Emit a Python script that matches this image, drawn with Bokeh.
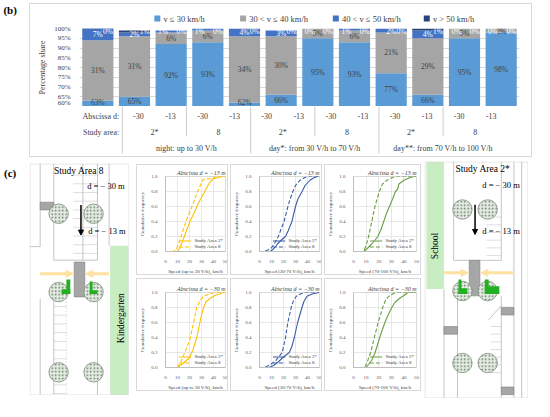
from bokeh.plotting import figure
from bokeh.layouts import row, column, Spacer
from bokeh.models import (Range1d, FixedTicker, Legend, LegendItem, ColumnDataSource,
                          Arrow, NormalHead, PrintfTickFormatter)
from bokeh.core.properties import value
from bokeh.embed import file_html
from bokeh.resources import INLINE
import math

SERIF = "Liberation Serif"
TXT = "#404040"

# ---------------- (b) data ----------------
traffic_groups = ["night: up to 30 V/h", "day*: from 30 V/h to 70 V/h", "day**: from 70 V/h to 100 V/h"]
study_areas = ["2*", "8"]
abscissas = ["-30", "-13"]
speed_classes = ["v \u2264 30 km/h", "30 < v \u2264 40 km/h", "40 < v \u2264 50 km/h", "v > 50 km/h"]
share_le30 = [63, 65, 92, 93, 62, 66, 95, 93, 77, 66, 95, 98]
share_30_40 = [31, 31, 6, 6, 34, 30, 5, 6, 21, 29, 5, 2]
share_40_50 = [7, 2, 1, 1, 4, 3, 0, 1, 2, 4, 0, 0]
share_gt50 = [0, 1, 0, 0, 0, 0, 0, 0, 0, 1, 0, 0]
share_ticks = [60, 65, 70, 75, 80, 85, 90, 95, 100]
class_colors = ["#5B9BD5", "#A5A5A5", "#4472C4", "#264478"]
label_colors = [TXT, TXT, "white", "white"]
legend_x_px = [86, 184, 290, 394]

# ---------------- (c) data: cumulative speed distributions ----------------
cdf_titles = ["Abscissa d = \u221213 m", "Abscissa d = \u221230 m"]
cdf_xlabels = ["Speed (up to 30 V/h), km/h", "Speed (30-70 V/h), km/h", "Speed (70-100 V/h), km/h"]
cdf_colors = ["#FFC000", "#3A5CA6", "#6A9E45"]
cdf_series = ["Study Area 2*", "Study Area 8"]
speed_ticks = [0, 10, 20, 30, 40, 50]
freq_ticks = [0, 0.2, 0.4, 0.6, 0.8, 1.0]

# d = -13 m
n13_a2_x = [0, 10, 12, 15, 18, 21, 24, 27, 30, 33, 36, 38, 40, 45, 48, 50]
n13_a2_y = [0, 0, 0.05, 0.17, 0.3, 0.42, 0.52, 0.63, 0.72, 0.81, 0.9, 0.94, 0.97, 0.99, 1, 1]
n13_a8_x = [0, 6.5, 9, 12, 15, 17, 20, 23, 26, 29, 31, 33, 38, 40, 42, 50]
n13_a8_y = [0, 0, 0.03, 0.15, 0.3, 0.4, 0.52, 0.64, 0.77, 0.88, 0.95, 0.97, 0.97, 0.98, 1, 1]
d13_a2_x = [0, 9, 12, 15, 18, 21.7, 24, 27, 30, 32, 35.5, 38, 42, 45, 48, 50]
d13_a2_y = [0, 0, 0.04, 0.1, 0.15, 0.2, 0.28, 0.4, 0.6, 0.7, 0.8, 0.88, 0.95, 0.98, 1, 1]
d13_a8_x = [0, 3, 7, 10, 13, 15.7, 18, 20.5, 23.7, 25.5, 27.8, 30, 33.8, 37, 40, 50]
d13_a8_y = [0, 0, 0.02, 0.05, 0.12, 0.2, 0.3, 0.4, 0.6, 0.7, 0.8, 0.88, 0.95, 0.98, 1, 1]
e13_a2_x = [0, 8, 11, 14.5, 17, 19.3, 22, 24, 26, 28.5, 31, 33.3, 35, 36, 40, 44, 48, 50]
e13_a2_y = [0, 0, 0.04, 0.1, 0.15, 0.2, 0.3, 0.4, 0.5, 0.6, 0.7, 0.8, 0.83, 0.9, 0.95, 0.98, 1, 1]
e13_a8_x = [0, 8, 10, 12, 14.5, 17, 20.5, 23, 26.5, 30, 34, 50]
e13_a8_y = [0, 0, 0.08, 0.2, 0.4, 0.6, 0.8, 0.9, 0.95, 0.98, 1, 1]
# d = -30 m
n30_a2_x = [0, 10, 15, 20, 23, 26, 28, 30, 32, 34, 37, 41, 45, 48, 50]
n30_a2_y = [0, 0, 0.06, 0.13, 0.24, 0.4, 0.55, 0.7, 0.81, 0.88, 0.92, 0.96, 0.98, 1, 1]
n30_a8_x = [0, 10, 13, 16, 20, 23, 26, 29, 31.7, 35, 40, 50]
n30_a8_y = [0, 0, 0.08, 0.2, 0.35, 0.57, 0.8, 0.9, 0.95, 0.97, 1, 1]
d30_a2_x = [0, 8, 12, 16, 20, 24.8, 27, 29, 31.8, 35.4, 37, 39.6, 44, 49.5, 50]
d30_a2_y = [0, 0, 0.03, 0.08, 0.14, 0.2, 0.28, 0.4, 0.6, 0.8, 0.88, 0.95, 0.98, 1, 1]
d30_a8_x = [0, 3, 7, 10, 14, 18.9, 21.7, 23.6, 26.4, 28.5, 30.7, 34, 37.7, 50]
d30_a8_y = [0, 0, 0.02, 0.05, 0.1, 0.2, 0.4, 0.6, 0.8, 0.9, 0.95, 0.98, 1, 1]
e30_a2_x = [0, 10, 12, 14.5, 17.2, 20.8, 24.9, 27.5, 30.4, 33, 36.4, 40, 43, 50]
e30_a2_y = [0, 0, 0.04, 0.1, 0.2, 0.4, 0.6, 0.7, 0.8, 0.87, 0.92, 0.96, 1, 1]
e30_a8_x = [0, 9, 11, 13.6, 16.5, 19.6, 23.2, 25.5, 28, 31, 34, 50]
e30_a8_y = [0, 0, 0.08, 0.2, 0.4, 0.6, 0.8, 0.9, 0.95, 0.98, 1, 1]

# ---------------- map sketches (local sketch units) ----------------
LM_W, LM_H = 103, 240
lm_tree_x = [30, 66, 30, 66, 30, 66]
lm_tree_y = [52, 52, 133, 133, 216, 216]
lm_seg_x0 = [11, 25, 70, 82, 0, 25, 25, 70, 11, 55]
lm_seg_y0 = [0, 0, 0, 0, 86, 100, 140, 140, 140, 0]
lm_seg_x1 = [11, 25, 70, 82, 11, 70, 25, 70, 11, 55]
lm_seg_y1 = [86, 100, 100, 85, 86, 100, 240, 240, 240, 100]
lm_stall_top = [12, 21, 30, 39, 48, 57, 66, 75, 84, 93]
lm_stall_low = [148, 157, 166, 175, 184, 193, 202, 211, 220, 229, 238]
lm_green = [83, 85, 102, 240]
lm_grey = [[11, 40, 25, 48], [46, 102, 57, 138]]
lm_marks = [[38, 120, 42, 135], [33, 130, 42, 135], [62, 122, 65, 135], [62, 131, 70, 135]]

RM_W, RM_H = 107, 247
rm_tree_x = [39, 65, 39, 65, 39, 65]
rm_tree_y = [50, 50, 135, 135, 210, 210]
rm_seg_x0 = [20, 30, 79, 30, 92, 34, 79, 100, 66]
rm_seg_y0 = [133, 0, 0, 103, 0, 140, 140, 0, 165]
rm_seg_x1 = [20, 30, 79, 79, 92, 34, 79, 100, 79]
rm_seg_y1 = [247, 103, 103, 103, 247, 247, 247, 247, 150]
rm_stall_top = [58, 66, 74, 82, 90, 98]
rm_stall_low = [172, 180, 188, 196, 204, 212, 220]
rm_green = [2, 0, 20, 133]
rm_grey = [[46, 103, 57, 140], [20, 172, 34, 180], [79, 152, 92, 160], [79, 235, 92, 243]]
rm_marks = [[35, 123, 38, 138], [35, 132, 44, 138], [62, 123, 66, 138], [62, 130, 77, 138]]

BORDER = "1px solid #D9D9D9"


def base_fig(w, h, **kw):
    p = figure(width=w, height=h, output_backend="svg", toolbar_location=None, **kw)
    p.background_fill_color = "white"
    p.border_fill_color = "white"
    return p


def blank(p):
    p.xaxis.visible = False
    p.yaxis.visible = False
    p.xgrid.visible = False
    p.ygrid.visible = False
    p.outline_line_color = None


# ================= panel (b) =================
n = len(share_le30)
BW, LH, BH, TH = 503, 21, 82, 51
BL, BR = 49, 14

# legend strip (drawn in pixel units of the strip)
leg = base_fig(BW, LH, x_range=Range1d(0, BW), y_range=Range1d(0, LH), min_border=0)
blank(leg)
leg.scatter(x=[x + 3 for x in legend_x_px], y=[7] * 4, marker="square", size=6,
            fill_color=class_colors, line_color=None)
leg.text(x=[x + 10 for x in legend_x_px], y=[7] * 4, text=speed_classes, text_align="left",
         text_baseline="middle", text_font=value(SERIF), text_font_size="8.5px", text_color=TXT)
leg.styles = {"border-top": BORDER, "border-left": BORDER, "border-right": BORDER}

xs = [i + 0.5 for i in range(n)]
src = ColumnDataSource(dict(x=xs, c0=share_le30, c1=share_30_40, c2=share_40_50, c3=share_gt50))
bar = base_fig(BW, BH, x_range=Range1d(0, n), y_range=Range1d(60, 100),
               min_border_left=BL, min_border_right=BR, min_border_top=4, min_border_bottom=0)
rs = bar.vbar_stack(["c0", "c1", "c2", "c3"], x="x", width=0.85, color=class_colors,
                    line_color=None, source=src)
bar.xaxis.visible = False
bar.xgrid.visible = False
bar.ygrid.grid_line_color = "#D9D9D9"
bar.outline_line_color = None
bar.yaxis.ticker = FixedTicker(ticks=share_ticks)
bar.yaxis.formatter = PrintfTickFormatter(format="%d%%")
bar.yaxis.axis_line_color = None
bar.yaxis.major_tick_line_color = None
bar.yaxis.minor_tick_line_color = None
bar.yaxis.major_label_text_font = SERIF
bar.yaxis.major_label_text_font_size = "7px"
bar.yaxis.major_label_text_color = TXT
bar.yaxis.major_label_standoff = 3
bar.yaxis.axis_label = "Percentage share"
bar.yaxis.axis_label_text_font = SERIF
bar.yaxis.axis_label_text_font_size = "8px"
bar.yaxis.axis_label_text_font_style = "normal"
bar.yaxis.axis_label_text_color = TXT
bar.yaxis.axis_label_standoff = 4
bar.styles = {"border-left": BORDER, "border-right": BORDER}

series = [share_le30, share_30_40, share_40_50, share_gt50]
lx, ly, lt, lc = [], [], [], []
for i in range(n):
    bottom = 0
    mids = []
    for k, s in enumerate(series):
        top = bottom + s[i]
        lo, hi = max(bottom, 60), min(top, 100)
        mids.append(max(min((lo + hi) / 2, 98.3), 61.9))
        bottom = top
    for k, s in enumerate(series):
        dx = 0.0
        if k == 3:
            dx = 0.28
        elif k == 2 and mids[1] > 94:
            dx = -0.22
        lx.append(xs[i] + dx)
        ly.append(mids[k])
        lt.append(f"{s[i]}%")
        lc.append(label_colors[k])
bar.text(x=lx, y=ly, text=lt, text_color=lc, text_align="center", text_baseline="middle",
         text_font=value(SERIF), text_font_size="7.5px")

# category table below the bars
ppu = (BW - BL - BR) / n
tab = base_fig(BW, TH, x_range=Range1d(-BL / ppu, n + BR / ppu), y_range=Range1d(3.15, 0),
               min_border=0)
blank(tab)
row_y = [0.6, 1.6, 2.6]
ng, na, nd = len(traffic_groups), len(study_areas), len(abscissas)
t_x, t_y, t_t = [], [], []
for g in range(ng):
    for a in range(na):
        for d in range(nd):
            t_x.append((g * na + a) * nd + d + 0.5)
            t_y.append(row_y[0])
            t_t.append(abscissas[d])
        t_x.append((g * na + a) * nd + nd / 2)
        t_y.append(row_y[1])
        t_t.append(study_areas[a])
    t_x.append(g * na * nd + na * nd / 2)
    t_y.append(row_y[2])
    t_t.append(traffic_groups[g])
tab.text(x=t_x, y=t_y, text=t_t, text_align="center", text_baseline="middle",
         text_font=value(SERIF), text_font_size="8px", text_color=TXT)
tab.text(x=[-0.1, -0.1], y=row_y[:2], text=["Abscissa d:", "Study area:"], text_align="right",
         text_baseline="middle", text_font=value(SERIF), text_font_size="8px", text_color=TXT)
long_x = [g * na * nd for g in range(ng)]
short_x = [g * na * nd + nd for g in range(ng)]
tab.segment(x0=long_x, y0=[0] * ng, x1=long_x, y1=[2.9] * ng, line_color="#BFBFBF", line_width=0.8)
tab.segment(x0=short_x, y0=[0] * ng, x1=short_x, y1=[1.85] * ng, line_color="#BFBFBF", line_width=0.8)
tab.styles = {"border-bottom": BORDER, "border-left": BORDER, "border-right": BORDER}


# ================= panel (c) CDF charts =================
def cdf_chart(title, xlabel, color, x2, y2, x8, y8, w, h, bl, br, bt, bb):
    p = base_fig(w, h, x_range=Range1d(0, 50), y_range=Range1d(0, 1.0),
                 min_border_left=bl, min_border_right=br, min_border_top=bt, min_border_bottom=bb)
    p.title.text = title
    p.title.align = "right"
    p.title.text_font = SERIF
    p.title.text_font_size = "6px"
    p.title.text_font_style = "italic"
    p.title.text_color = TXT
    p.title.standoff = 2
    r2 = p.line(x2, y2, line_color=color, line_width=1.1)
    r8 = p.line(x8, y8, line_color=color, line_width=1.1, line_dash="4 2")
    lg = Legend(items=[LegendItem(label=cdf_series[0], renderers=[r2]),
                       LegendItem(label=cdf_series[1], renderers=[r8])],
                location="bottom_right", label_text_font=SERIF, label_text_font_size="5px",
                label_text_color=TXT, glyph_width=13, glyph_height=5, label_height=5,
                label_standoff=3, spacing=1, padding=1, margin=2,
                border_line_color=None, background_fill_alpha=0)
    p.add_layout(lg)
    p.xaxis.ticker = FixedTicker(ticks=speed_ticks)
    p.yaxis.ticker = FixedTicker(ticks=freq_ticks)
    p.yaxis.formatter = PrintfTickFormatter(format="%.1f")
    p.xaxis.axis_label = xlabel
    p.yaxis.axis_label = "Cumulative frequency"
    for ax in (p.xaxis[0], p.yaxis[0]):
        ax.axis_line_color = "#BFBFBF"
        ax.major_tick_line_color = None
        ax.minor_tick_line_color = None
        ax.major_label_text_font = SERIF
        ax.major_label_text_font_size = "5px"
        ax.major_label_text_color = "#595959"
        ax.major_label_standoff = 2
        ax.axis_label_text_font = SERIF
        ax.axis_label_text_font_size = "5px"
        ax.axis_label_text_font_style = "normal"
        ax.axis_label_text_color = TXT
        ax.axis_label_standoff = 3
    p.xgrid.grid_line_color = "#D9D9D9"
    p.ygrid.grid_line_color = "#D9D9D9"
    p.xgrid.grid_line_width = 0.6
    p.ygrid.grid_line_width = 0.6
    p.outline_line_color = "#D9D9D9"
    p.styles = {"border": BORDER}
    return p


cw = [94, 94, 99]
cbl = [22, 23, 26]
cbr = [4, 4, 6]
top_data = [(n13_a2_x, n13_a2_y, n13_a8_x, n13_a8_y), (d13_a2_x, d13_a2_y, d13_a8_x, d13_a8_y),
            (e13_a2_x, e13_a2_y, e13_a8_x, e13_a8_y)]
bot_data = [(n30_a2_x, n30_a2_y, n30_a8_x, n30_a8_y), (d30_a2_x, d30_a2_y, d30_a8_x, d30_a8_y),
            (e30_a2_x, e30_a2_y, e30_a8_x, e30_a8_y)]
top_charts = [cdf_chart(cdf_titles[0], cdf_xlabels[j], cdf_colors[j], *top_data[j],
                        cw[j] - 2, 111, cbl[j], cbr[j], 11, 21) for j in range(3)]
bot_charts = [cdf_chart(cdf_titles[1], cdf_xlabels[j], cdf_colors[j], *bot_data[j],
                        cw[j] - 2, 113, cbl[j], cbr[j], 13, 18) for j in range(3)]


# ================= panel (c) maps =================
def tree_style():
    return dict(fill_color="#E4EAE2", line_color="#7E8E7E", line_width=0.8,
                hatch_pattern="dot", hatch_color="#5E7A5E", hatch_scale=3.5, hatch_weight=0.8)


def map_fig(w, h, W, H):
    p = base_fig(w, h, x_range=Range1d(0, W), y_range=Range1d(H, 0), min_border=0)
    blank(p)
    return p


# left map: Study Area 8
lm = map_fig(100, 232, LM_W, LM_H)
lm.quad(left=[lm_green[0]], bottom=[lm_green[1]], right=[lm_green[2]], top=[lm_green[3]],
        fill_color="#C9EDC3", line_color=None)
lm.segment(x0=lm_seg_x0, y0=lm_seg_y0, x1=lm_seg_x1, y1=lm_seg_y1, line_color="#B5B5B5", line_width=0.8)
lm.segment(x0=[45] * len(lm_stall_top), y0=lm_stall_top, x1=[70] * len(lm_stall_top), y1=lm_stall_top,
           line_color="#C8C8C8", line_width=0.6)
lm.segment(x0=[25] * len(lm_stall_low), y0=lm_stall_low, x1=[38] * len(lm_stall_low), y1=lm_stall_low,
           line_color="#C8C8C8", line_width=0.6)
lm.segment(x0=[38], y0=[140], x1=[38], y1=[240], line_color="#B5B5B5", line_width=0.6, line_dash="1 2")
lm.quad(left=[g[0] for g in lm_grey], bottom=[g[1] for g in lm_grey], right=[g[2] for g in lm_grey],
        top=[g[3] for g in lm_grey], fill_color="#A6A6A6", line_color="#808080", line_width=0.6)
lm.add_layout(Arrow(x_start=11, y_start=114, x_end=45, y_end=114, line_color="#FFE1A0", line_width=3,
                    end=NormalHead(size=7, fill_color="#FFE1A0", line_color="#FFE1A0")))
lm.add_layout(Arrow(x_start=82, y_start=114, x_end=58, y_end=114, line_color="#FFE1A0", line_width=3,
                    end=NormalHead(size=7, fill_color="#FFE1A0", line_color="#FFE1A0")))
lm.circle(x=lm_tree_x, y=lm_tree_y, radius=10, **tree_style())
lm.quad(left=[g[0] for g in lm_marks], bottom=[g[1] for g in lm_marks], right=[g[2] for g in lm_marks],
        top=[g[3] for g in lm_marks], fill_color="#22B022", line_color=None)
lm.add_layout(Arrow(x_start=53, y_start=43, x_end=53, y_end=74, line_color="black", line_width=1.5,
                    end=NormalHead(size=5, fill_color="black", line_color="black")))
lm.text(x=[51], y=[8], text=["Study Area 8"], text_align="center", text_baseline="middle",
        text_font=value(SERIF), text_font_size="9.5px", text_color="black")
lm.text(x=[98, 99], y=[23, 70], text=["d = \u2212 30 m", "d = \u2212 13 m"], text_align="right",
        text_baseline="middle", text_font=value(SERIF), text_font_size="8.5px", text_color="black")
lm.text(x=[94], y=[160], text=["Kindergarten"], angle=math.pi / 2, text_align="center",
        text_baseline="middle", text_font=value(SERIF), text_font_size="9.5px", text_color="black")
lm.quad(left=[0.5], bottom=[0.5], right=[LM_W - 0.5], top=[LM_H - 0.5], fill_color=None,
        line_color="#D9D9D9", line_width=0.8)

# right map: Study Area 2*
rm = map_fig(104, 237, RM_W, RM_H)
rm.quad(left=[rm_green[0]], bottom=[rm_green[1]], right=[rm_green[2]], top=[rm_green[3]],
        fill_color="#C9EDC3", line_color=None)
rm.segment(x0=rm_seg_x0, y0=rm_seg_y0, x1=rm_seg_x1, y1=rm_seg_y1, line_color="#B5B5B5", line_width=0.8)
rm.segment(x0=[64] * len(rm_stall_top), y0=rm_stall_top, x1=[79] * len(rm_stall_top), y1=rm_stall_top,
           line_color="#C8C8C8", line_width=0.6)
rm.segment(x0=[68] * len(rm_stall_low), y0=rm_stall_low, x1=[79] * len(rm_stall_low), y1=rm_stall_low,
           line_color="#C8C8C8", line_width=0.6)
rm.quad(left=[g[0] for g in rm_grey], bottom=[g[1] for g in rm_grey], right=[g[2] for g in rm_grey],
        top=[g[3] for g in rm_grey], fill_color="#A6A6A6", line_color="#808080", line_width=0.6)
rm.add_layout(Arrow(x_start=20, y_start=116, x_end=45, y_end=116, line_color="#FFE1A0", line_width=3,
                    end=NormalHead(size=7, fill_color="#FFE1A0", line_color="#FFE1A0")))
rm.add_layout(Arrow(x_start=92, y_start=116, x_end=58, y_end=116, line_color="#FFE1A0", line_width=3,
                    end=NormalHead(size=7, fill_color="#FFE1A0", line_color="#FFE1A0")))
rm.circle(x=rm_tree_x, y=rm_tree_y, radius=10, **tree_style())
rm.quad(left=[g[0] for g in rm_marks], bottom=[g[1] for g in rm_marks], right=[g[2] for g in rm_marks],
        top=[g[3] for g in rm_marks], fill_color="#22B022", line_color=None)
rm.add_layout(Arrow(x_start=52, y_start=45, x_end=52, y_end=76, line_color="black", line_width=1.5,
                    end=NormalHead(size=5, fill_color="black", line_color="black")))
rm.text(x=[60], y=[8], text=["Study Area 2*"], text_align="center", text_baseline="middle",
        text_font=value(SERIF), text_font_size="9.5px", text_color="black")
rm.text(x=[98, 98], y=[25, 72], text=["d = \u2212 30 m", "d = \u2212 13 m"], text_align="right",
        text_baseline="middle", text_font=value(SERIF), text_font_size="8.5px", text_color="black")
rm.text(x=[11], y=[88], text=["School"], angle=math.pi / 2, text_align="center",
        text_baseline="middle", text_font=value(SERIF), text_font_size="9.5px", text_color="black")
rm.quad(left=[0.5], bottom=[0.5], right=[RM_W - 0.5], top=[RM_H - 0.5], fill_color=None,
        line_color="#D9D9D9", line_width=0.8)

# panel letters
lab = base_fig(29, 401, x_range=Range1d(0, 30), y_range=Range1d(415, 0), min_border=0)
blank(lab)
lab.text(x=[10, 10], y=[10, 179], text=["(b)", "(c)"], text_align="center", text_baseline="middle",
         text_font=value(SERIF), text_font_size="11px", text_font_style="bold", text_color="black")

charts = column(Spacer(height=3),
                row(top_charts[0], Spacer(width=2), top_charts[1], Spacer(width=2), top_charts[2], spacing=0),
                Spacer(height=3),
                row(bot_charts[0], Spacer(width=2), bot_charts[1], Spacer(width=2), bot_charts[2], spacing=0),
                spacing=0)
panel_c = row(column(Spacer(height=2), lm, spacing=0), Spacer(width=7), charts, Spacer(width=3), rm,
              spacing=0)
right = column(Spacer(height=3), leg, bar, tab, Spacer(height=4), panel_c, spacing=0)
layout = row(lab, right, spacing=0)

open("out.html", "w").write(file_html(layout, INLINE, title="chart"))
